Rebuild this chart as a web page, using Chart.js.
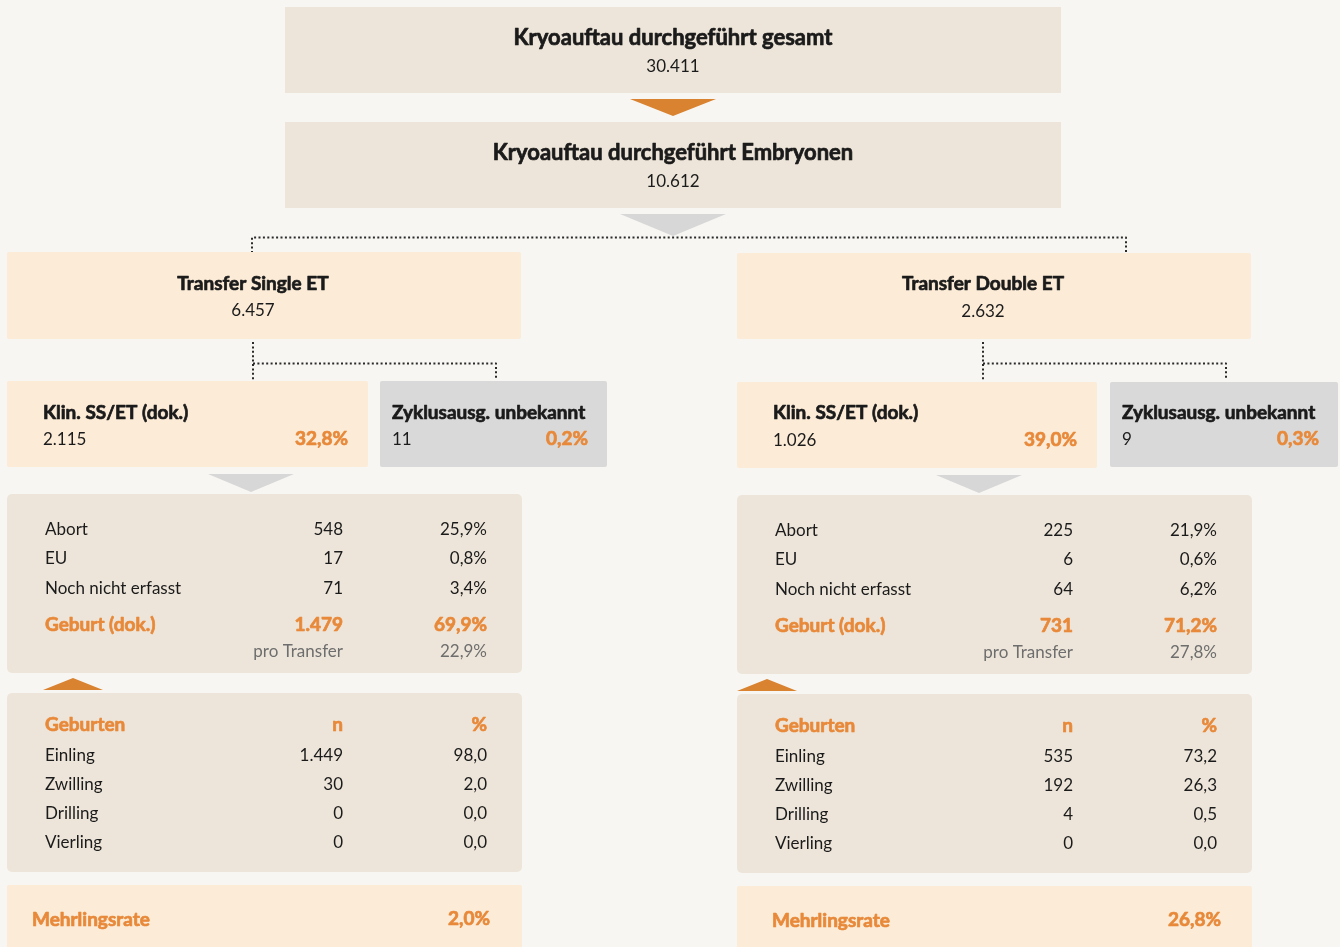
<!DOCTYPE html>
<html>
<head>
<meta charset="utf-8">
<script src="https://cdn.jsdelivr.net/npm/chart.js@4.4.1/dist/chart.umd.min.js"></script>
<style>
  html, body { margin: 0; padding: 0; background: #f7f6f2; }
  #wrap { width: 1340px; height: 947px; position: relative; }
</style>
</head>
<body>
<div id="wrap"><canvas id="c"></canvas></div>
<script>
// ---------- DATA ----------
const topLabels = ["Kryoauftau durchgeführt gesamt", "Kryoauftau durchgeführt Embryonen"];
const topValues = [30411, 10612];

const branchLabels = ["Transfer Single ET", "Transfer Double ET"];
const transferValues = [6457, 2632];

const klinLabel = "Klin. SS/ET (dok.)";
const klinValues = [2115, 1026];
const klinPct = [32.8, 39.0];

const unknownLabel = "Zyklusausg. unbekannt";
const unknownValues = [11, 9];
const unknownPct = [0.2, 0.3];

const outcomeLabels = ["Abort", "EU", "Noch nicht erfasst"];
const outcomeSingleN = [548, 17, 71];
const outcomeSinglePct = [25.9, 0.8, 3.4];
const outcomeDoubleN = [225, 6, 64];
const outcomeDoublePct = [21.9, 0.6, 6.2];

const birthLabel = "Geburt (dok.)";
const birthN = [1479, 731];
const birthPct = [69.9, 71.2];
const perTransferLabel = "pro Transfer";
const perTransferPct = [22.9, 27.8];

const birthTypeHeader = ["Geburten", "n", "%"];
const birthTypes = ["Einling", "Zwilling", "Drilling", "Vierling"];
const birthTypeSingleN = [1449, 30, 0, 0];
const birthTypeSinglePct = [98.0, 2.0, 0.0, 0.0];
const birthTypeDoubleN = [535, 192, 4, 0];
const birthTypeDoublePct = [73.2, 26.3, 0.5, 0.0];

const multipleLabel = "Mehrlingsrate";
const multipleRate = [2.0, 26.8];

// ---------- FORMAT ----------
function fmtN(v) { return String(v).replace(/\B(?=(\d{3})+(?!\d))/g, "."); }
function fmtP(v) { return v.toFixed(1).replace(".", ","); }

// ---------- STYLE ----------
const C = {
  bg: "#f7f6f2", beige: "#ede5d9", peach: "#fbebd7", grey: "#d9d9d9",
  orange: "#e8893a", triOrange: "#d9822f", triGrey: "#d7d7d7",
  text: "#1b1b1b", sub: "#6e6e6e", dot: "#2a2a2a"
};
const FONT = "Lato, 'Open Sans', sans-serif";
const YOFF = 2;

const flowPlugin = {
  id: "flow",
  beforeDraw(chart) {
    const ctx = chart.ctx;
    const xs = chart.scales.x, ys = chart.scales.y;
    const X = v => xs.getPixelForValue(v);
    const Y = v => ys.getPixelForValue(v);

    ctx.save();
    ctx.fillStyle = C.bg;
    ctx.fillRect(0, 0, chart.width, chart.height);

    function box(x0, y0, x1, y1, color, r) {
      ctx.fillStyle = color;
      ctx.beginPath();
      if (r) ctx.roundRect(X(x0), Y(y0), X(x1) - X(x0), Y(y1) - Y(y0), r);
      else ctx.rect(X(x0), Y(y0), X(x1) - X(x0), Y(y1) - Y(y0));
      ctx.fill();
    }
    function tri(x0, x1, yBase, yApex, color) {
      ctx.fillStyle = color;
      ctx.beginPath();
      ctx.moveTo(X(x0), Y(yBase));
      ctx.lineTo(X(x1), Y(yBase));
      ctx.lineTo(X((x0 + x1) / 2), Y(yApex));
      ctx.closePath();
      ctx.fill();
    }
    function dotted(points) {
      ctx.strokeStyle = C.dot;
      ctx.lineWidth = 2;
      ctx.setLineDash([2, 2.4]);
      ctx.beginPath();
      points.forEach((p, i) => i ? ctx.lineTo(X(p[0]), Y(p[1])) : ctx.moveTo(X(p[0]), Y(p[1])));
      ctx.stroke();
      ctx.setLineDash([]);
    }
    function txt(s, x, y, o) {
      o = o || {};
      ctx.font = (o.bold ? "700 " : "400 ") + (o.size || 17) + "px " + FONT;
      ctx.fillStyle = o.color || C.text;
      ctx.textAlign = o.align || "left";
      ctx.textBaseline = "middle";
      ctx.fillText(s, X(x), Y(y + YOFF));
      if (o.bold) {
        ctx.strokeStyle = o.color || C.text;
        ctx.lineWidth = 0.7;
        ctx.lineJoin = "round";
        ctx.strokeText(s, X(x), Y(y + YOFF));
      }
    }

    // top boxes
    box(285, 7, 1061, 93, C.beige);
    txt(topLabels[0], 673, 36, { bold: true, size: 22, align: "center" });
    txt(fmtN(topValues[0]), 673, 65, { size: 17, align: "center" });
    tri(630, 716, 99, 116, C.triOrange);
    box(285, 122, 1061, 208, C.beige);
    txt(topLabels[1], 673, 151, { bold: true, size: 22, align: "center" });
    txt(fmtN(topValues[1]), 673, 180, { size: 17, align: "center" });
    tri(620, 726, 214, 236, C.triGrey);

    dotted([[252, 253], [252, 237.5], [1126, 237.5], [1126, 253]]);

    const sides = [
      { x0: 7, x1: 521, cx: 253, kx1: 368, gx0: 380, gx1: 607, dy: 0,
        tN: outcomeSingleN, tP: outcomeSinglePct, bN: birthTypeSingleN, bP: birthTypeSinglePct },
      { x0: 737, x1: 1251, cx: 983, kx1: 1097, gx0: 1110, gx1: 1338, dy: 1,
        tN: outcomeDoubleN, tP: outcomeDoublePct, bN: birthTypeDoubleN, bP: birthTypeDoublePct }
    ];
    const B = 19;

    sides.forEach((s, i) => {
      const d = s.dy;
      // transfer box
      box(s.x0, 252 + d, s.x1, 339, C.peach, 2);
      txt(branchLabels[i], s.cx, 282, { bold: true, size: B, align: "center" });
      txt(fmtN(transferValues[i]), s.cx, 309 + d, { size: 17, align: "center" });

      // connectors
      const gmid = i ? 1226 : 496;
      dotted([[s.cx, 342], [s.cx, 381]]);
      dotted([[s.cx, 363.5], [gmid, 363.5], [gmid, 380]]);

      // klin box
      box(s.x0, 381 + d, s.kx1, 467 + d, C.peach, 2);
      txt(klinLabel, s.x0 + 36, 411, { bold: true, size: B });
      txt(fmtN(klinValues[i]), s.x0 + 36, 438 + d, { size: 17 });
      txt(fmtP(klinPct[i]) + "%", s.kx1 - 20, 437 + d, { bold: true, size: B, color: C.orange, align: "right" });

      // unknown box
      box(s.gx0, 381 + d, s.gx1, 467, C.grey, 2);
      txt(unknownLabel, s.gx0 + 12, 411, { bold: true, size: B });
      txt(fmtN(unknownValues[i]), s.gx0 + 12, 438, { size: 17 });
      txt(fmtP(unknownPct[i]) + "%", s.gx1 - 19, 437, { bold: true, size: B, color: C.orange, align: "right" });

      // arrow down
      tri(s.cx - 45 + (i ? -2 : 0), s.cx + 41 + (i ? -2 : 0), 474 + d, 492 + d, C.triGrey);

      // outcome table
      const lx = s.x0 + 38, nx = s.x0 + 336, px = s.x0 + 480;
      box(s.x0, 494 + d, s.x1 + 1, 673 + d, C.beige, 5);
      const rowsY = [528, 557, 587];
      outcomeLabels.forEach((lab, k) => {
        txt(lab, lx, rowsY[k] + d, { size: 17 });
        txt(fmtN(s.tN[k]), nx, rowsY[k] + d, { size: 17, align: "right" });
        txt(fmtP(s.tP[k]) + "%", px, rowsY[k] + d, { size: 17, align: "right" });
      });
      txt(birthLabel, lx, 623 + d, { bold: true, size: B, color: C.orange });
      txt(fmtN(birthN[i]), nx, 623 + d, { bold: true, size: B, color: C.orange, align: "right" });
      txt(fmtP(birthPct[i]) + "%", px, 623 + d, { bold: true, size: B, color: C.orange, align: "right" });
      txt(perTransferLabel, nx, 650 + d, { size: 17, color: C.sub, align: "right" });
      txt(fmtP(perTransferPct[i]) + "%", px, 650 + d, { size: 17, color: C.sub, align: "right" });

      // arrow up
      const ax0 = i ? 737 : 43;
      tri(ax0, ax0 + 60, 690 + d, 678 + d, C.triOrange);

      // birth types table
      box(s.x0, 693 + d, s.x1 + 1, 872 + d, C.beige, 5);
      txt(birthTypeHeader[0], lx, 723 + d, { bold: true, size: B, color: C.orange });
      txt(birthTypeHeader[1], nx, 723 + d, { bold: true, size: B, color: C.orange, align: "right" });
      txt(birthTypeHeader[2], px, 723 + d, { bold: true, size: B, color: C.orange, align: "right" });
      const bY = [754, 783, 812, 841];
      birthTypes.forEach((lab, k) => {
        txt(lab, lx, bY[k] + d, { size: 17 });
        txt(fmtN(s.bN[k]), nx, bY[k] + d, { size: 17, align: "right" });
        txt(fmtP(s.bP[k]), px, bY[k] + d, { size: 17, align: "right" });
      });

      // multiple rate
      box(s.x0, 885 + d, s.x1 + 1, 960, C.peach, 2);
      txt(multipleLabel, s.x0 + 25 + (i ? 10 : 0), 918 + d, { bold: true, size: B, color: C.orange });
      txt(fmtP(multipleRate[i]) + "%", s.x0 + 483 + (i ? 1 : 0), 917 + d, { bold: true, size: B, color: C.orange, align: "right" });
    });

    ctx.restore();
  }
};

new Chart(document.getElementById("c"), {
  type: "scatter",
  data: { datasets: [{ data: [], pointRadius: 0 }] },
  options: {
    responsive: true,
    maintainAspectRatio: false,
    animation: false,
    events: [],
    layout: { padding: 0 },
    plugins: { legend: { display: false }, tooltip: { enabled: false }, title: { display: false } },
    scales: {
      x: { type: "linear", min: 0, max: 1340, display: false },
      y: { type: "linear", min: 0, max: 947, reverse: true, display: false }
    }
  },
  plugins: [flowPlugin]
});
</script>
</body>
</html>
